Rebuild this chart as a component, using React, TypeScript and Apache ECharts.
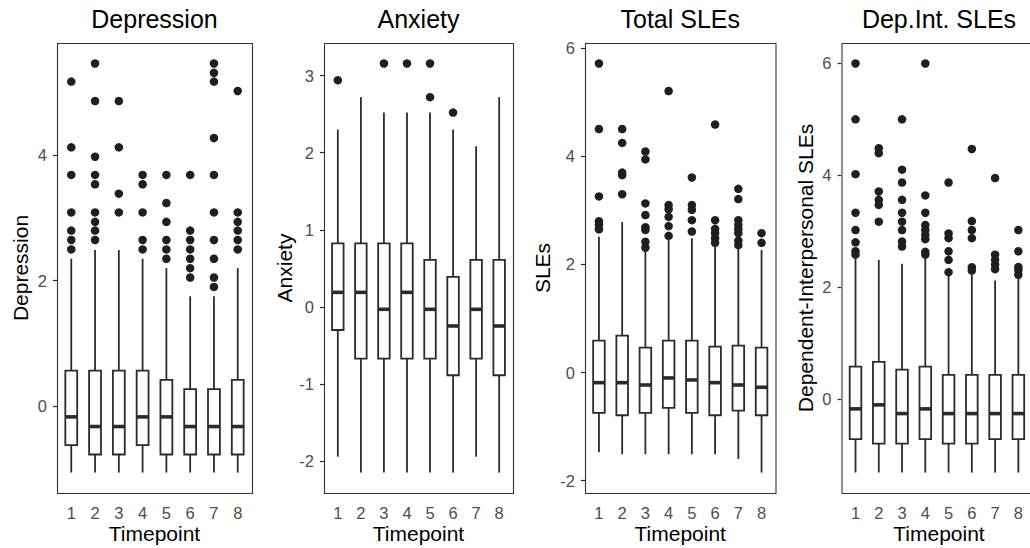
import React, { useEffect, useRef } from "react";
import * as echarts from "echarts";

// ---------- data ----------
const CATEGORIES = ["1", "2", "3", "4", "5", "6", "7", "8"];
const TITLES = ["Depression", "Anxiety", "Total SLEs", "Dep.Int. SLEs"];
const Y_NAMES = ["Depression", "Anxiety", "SLEs", "Dependent-Interpersonal SLEs"];
const X_NAME = "Timepoint";

const DEP_MIN = [-1.065, -1.065, -1.065, -1.065, -1.065, -1.065, -1.065, -1.065];
const DEP_Q1 = [-0.628, -0.777, -0.777, -0.628, -0.777, -0.777, -0.777, -0.777];
const DEP_MED = [-0.176, -0.33, -0.33, -0.176, -0.176, -0.33, -0.33, -0.33];
const DEP_Q3 = [0.564, 0.564, 0.564, 0.564, 0.415, 0.266, 0.266, 0.415];
const DEP_MAX = [2.35, 2.49, 2.49, 2.35, 2.2, 1.75, 1.75, 2.2];
const DEP_OUT = [
  [5.18, 4.13, 3.69, 3.09, 2.8, 2.65, 2.5],
  [5.47, 4.87, 3.98, 3.69, 3.54, 3.09, 2.94, 2.8, 2.65],
  [4.87, 4.13, 3.39, 3.09],
  [3.69, 3.54, 3.09, 2.65, 2.5],
  [3.69, 3.24, 2.94, 2.65, 2.5, 2.35],
  [3.69, 2.8, 2.65, 2.5, 2.35, 2.2, 2.05],
  [5.47, 5.32, 5.18, 4.28, 3.69, 3.09, 2.65, 2.35, 2.05, 1.9],
  [5.03, 3.09, 2.94, 2.8, 2.65, 2.5],
];
const DEP_TICKS = [0, 2, 4];

const ANX_MIN = [-1.94, -2.146, -2.146, -2.146, -2.146, -2.146, -1.94, -2.146];
const ANX_Q1 = [-0.298, -0.67, -0.67, -0.67, -0.67, -0.885, -0.67, -0.885];
const ANX_MED = [0.19, 0.19, -0.03, 0.19, -0.03, -0.246, -0.03, -0.246];
const ANX_Q3 = [0.825, 0.825, 0.825, 0.825, 0.61, 0.39, 0.61, 0.61];
const ANX_MAX = [2.3, 2.72, 2.52, 2.52, 2.52, 2.3, 2.085, 2.72];
const ANX_OUT = [[2.94], [], [3.157], [3.157], [3.157, 2.72], [2.52], [], []];
const ANX_TICKS = [-2, -1, 0, 1, 2, 3];

const SLE_MIN = [-1.475, -1.51, -1.51, -1.51, -1.51, -1.51, -1.6, -1.85];
const SLE_Q1 = [-0.747, -0.79, -0.747, -0.655, -0.747, -0.79, -0.705, -0.79];
const SLE_MED = [-0.187, -0.187, -0.23, -0.1, -0.137, -0.187, -0.23, -0.272];
const SLE_Q3 = [0.59, 0.683, 0.46, 0.59, 0.59, 0.48, 0.5, 0.46];
const SLE_MAX = [2.515, 2.786, 2.26, 2.515, 2.485, 2.34, 2.3, 2.27];
const SLE_OUT = [
  [5.72, 4.507, 3.26, 2.8, 2.73, 2.65],
  [4.507, 4.25, 3.7, 3.655, 3.3],
  [4.09, 3.945, 3.13, 2.915, 2.69, 2.64, 2.42, 2.31],
  [5.21, 3.1, 3.02, 2.88, 2.71, 2.53],
  [3.61, 3.1, 3.01, 2.82, 2.61],
  [4.59, 2.82, 2.66, 2.58, 2.485, 2.4],
  [3.4, 3.21, 2.82, 2.73, 2.65, 2.58, 2.44, 2.36],
  [2.58, 2.4],
];
const SLE_TICKS = [-2, 0, 2, 4, 6];

const DI_MIN = [-1.318, -1.318, -1.318, -1.318, -1.318, -1.318, -1.318, -1.318];
const DI_Q1 = [-0.72, -0.8, -0.8, -0.72, -0.8, -0.8, -0.72, -0.72];
const DI_MED = [-0.179, -0.107, -0.263, -0.179, -0.263, -0.263, -0.263, -0.263];
const DI_Q3 = [0.578, 0.662, 0.524, 0.578, 0.429, 0.429, 0.429, 0.429];
const DI_MAX = [2.55, 2.487, 2.415, 2.55, 2.2, 2.22, 2.117, 2.17];
const DI_OUT = [
  [6.0, 5.0, 4.02, 3.33, 3.02, 2.8, 2.64, 2.58],
  [4.485, 4.395, 3.71, 3.56, 3.47, 3.17],
  [5.0, 4.1, 3.87, 3.56, 3.33, 3.17, 3.02, 2.815, 2.725],
  [6.0, 3.64, 3.33, 3.11, 3.02, 2.93, 2.857, 2.63, 2.58],
  [3.87, 2.96, 2.875, 2.64, 2.487, 2.266],
  [4.47, 3.18, 3.02, 2.875, 2.355, 2.295],
  [3.95, 2.58, 2.487, 2.4, 2.32],
  [3.02, 2.64, 2.36, 2.3, 2.22],
];
const DI_TICKS = [0, 2, 4, 6];

const STATS = [
  [DEP_MIN, DEP_Q1, DEP_MED, DEP_Q3, DEP_MAX, DEP_OUT, DEP_TICKS],
  [ANX_MIN, ANX_Q1, ANX_MED, ANX_Q3, ANX_MAX, ANX_OUT, ANX_TICKS],
  [SLE_MIN, SLE_Q1, SLE_MED, SLE_Q3, SLE_MAX, SLE_OUT, SLE_TICKS],
  [DI_MIN, DI_Q1, DI_MED, DI_Q3, DI_MAX, DI_OUT, DI_TICKS],
] as any[];

// ---------- layout ----------
const PANEL_TOP = 43;
const PANEL_BOTTOM = 493;
const PANEL_X = [
  [57, 252],
  [324, 513],
  [585, 775.5],
  [841.5, 1036.5],
];
const NAME_X = [20.6, 284.3, 542.6, 805.6];
const FONT = "'Liberation Sans', Arial, Helvetica, sans-serif";
const LINE = "#2b2b2b";

export default function App() {
  const ref = useRef<HTMLDivElement>(null);

  useEffect(() => {
    if (!ref.current) return;
    const chart = echarts.init(ref.current, undefined, { renderer: "svg" });

    const grids: any[] = [];
    const xAxes: any[] = [];
    const yAxes: any[] = [];
    const series: any[] = [];
    const graphics: any[] = [];

    STATS.forEach((st: any[], i: number) => {
      const [mins, q1s, meds, q3s, maxs, outs, ticks] = st;
      const [bx0, bx1] = PANEL_X[i];
      const unit = (bx1 - bx0) / 8.2;
      const allOut = (outs as number[][]).flat();
      const lo = Math.min(...mins);
      const hi = Math.max(...maxs, ...allOut);
      const pad = (hi - lo) * 0.05;

      grids.push({
        left: bx0 + 0.1 * unit,
        width: 8 * unit,
        top: PANEL_TOP,
        height: PANEL_BOTTOM - PANEL_TOP,
        containLabel: false,
      });
      xAxes.push({
        type: "category",
        gridIndex: i,
        data: CATEGORIES,
        boundaryGap: true,
        axisLine: { show: false },
        axisTick: { show: true, alignWithLabel: true, length: 4, lineStyle: { color: LINE, width: 1.2 } },
        axisLabel: { color: "#4D4D4D", fontSize: 16.5, fontFamily: FONT, margin: 11, interval: 0 },
        splitLine: { show: false },
      });
      yAxes.push({
        type: "value",
        gridIndex: i,
        min: lo - pad,
        max: hi + pad,
        offset: 0.1 * unit,
        axisLine: { show: false },
        axisTick: { show: true, length: 4, customValues: ticks, lineStyle: { color: LINE, width: 1.2 } },
        axisLabel: { color: "#4D4D4D", fontSize: 16.5, fontFamily: FONT, margin: 10, customValues: ticks },
        splitLine: { show: false },
      });

      const outData: number[][] = [];
      (outs as number[][]).forEach((arr, k) => arr.forEach((v) => outData.push([k, v])));
      series.push({
        type: "scatter",
        xAxisIndex: i,
        yAxisIndex: i,
        data: outData,
        symbol: "circle",
        symbolSize: 8.5,
        itemStyle: { color: "#1f1f1f", opacity: 1 },
        silent: true,
        z: 2,
      });

      const boxData = CATEGORIES.map((_, k) => [k, mins[k], q1s[k], meds[k], q3s[k], maxs[k]]);
      series.push({
        type: "custom",
        xAxisIndex: i,
        yAxisIndex: i,
        data: boxData,
        encode: { x: 0, y: [1, 2, 3, 4, 5] },
        silent: true,
        z: 3,
        renderItem: (params: any, api: any) => {
          const x = api.value(0);
          const pLo = api.coord([x, api.value(1)]);
          const pQ1 = api.coord([x, api.value(2)]);
          const pMd = api.coord([x, api.value(3)]);
          const pQ3 = api.coord([x, api.value(4)]);
          const pHi = api.coord([x, api.value(5)]);
          const bw = api.size([1, 0])[0] * 0.5;
          const cx = pMd[0];
          const st = { stroke: LINE, lineWidth: 1.8, fill: "none" };
          return {
            type: "group",
            children: [
              { type: "line", shape: { x1: cx, y1: pLo[1], x2: cx, y2: pQ1[1] }, style: st },
              { type: "line", shape: { x1: cx, y1: pQ3[1], x2: cx, y2: pHi[1] }, style: st },
              {
                type: "rect",
                shape: { x: cx - bw / 2, y: pQ3[1], width: bw, height: pQ1[1] - pQ3[1] },
                style: { stroke: LINE, lineWidth: 1.8, fill: "#ffffff" },
              },
              {
                type: "line",
                shape: { x1: cx - bw / 2, y1: pMd[1], x2: cx + bw / 2, y2: pMd[1] },
                style: { stroke: LINE, lineWidth: 3.6 },
              },
            ],
          };
        },
      });

      // panel border
      graphics.push({
        type: "rect",
        shape: { x: bx0 + 0.5, y: PANEL_TOP + 0.5, width: bx1 - bx0, height: PANEL_BOTTOM - PANEL_TOP },
        style: { fill: "none", stroke: "#333333", lineWidth: 1.1 },
        z: 10,
        silent: true,
      });
      const cxPanel = (bx0 + bx1) / 2;
      graphics.push({
        type: "text",
        x: cxPanel,
        y: 19,
        style: { text: TITLES[i], align: "center", verticalAlign: "middle", fontSize: 25, fontFamily: FONT, fill: "#000000" },
        z: 10,
      });
      graphics.push({
        type: "text",
        x: cxPanel,
        y: 533.4,
        style: { text: X_NAME, align: "center", verticalAlign: "middle", fontSize: 21, fontFamily: FONT, fill: "#000000" },
        z: 10,
      });
      graphics.push({
        type: "text",
        x: NAME_X[i],
        y: (PANEL_TOP + PANEL_BOTTOM) / 2,
        rotation: Math.PI / 2,
        style: { text: Y_NAMES[i], align: "center", verticalAlign: "middle", fontSize: 21, fontFamily: FONT, fill: "#000000" },
        z: 10,
      });
    });

    chart.setOption({
      animation: false,
      backgroundColor: "#ffffff",
      textStyle: { fontFamily: FONT },
      grid: grids,
      xAxis: xAxes,
      yAxis: yAxes,
      series,
      graphic: graphics,
    });

    return () => chart.dispose();
  }, []);

  return (
    <div style={{ position: "fixed", left: 0, top: 0, width: 1030, height: 548, overflow: "hidden", background: "#fff" }}>
      <div ref={ref} style={{ width: 1030, height: 548 }} />
    </div>
  );
}
